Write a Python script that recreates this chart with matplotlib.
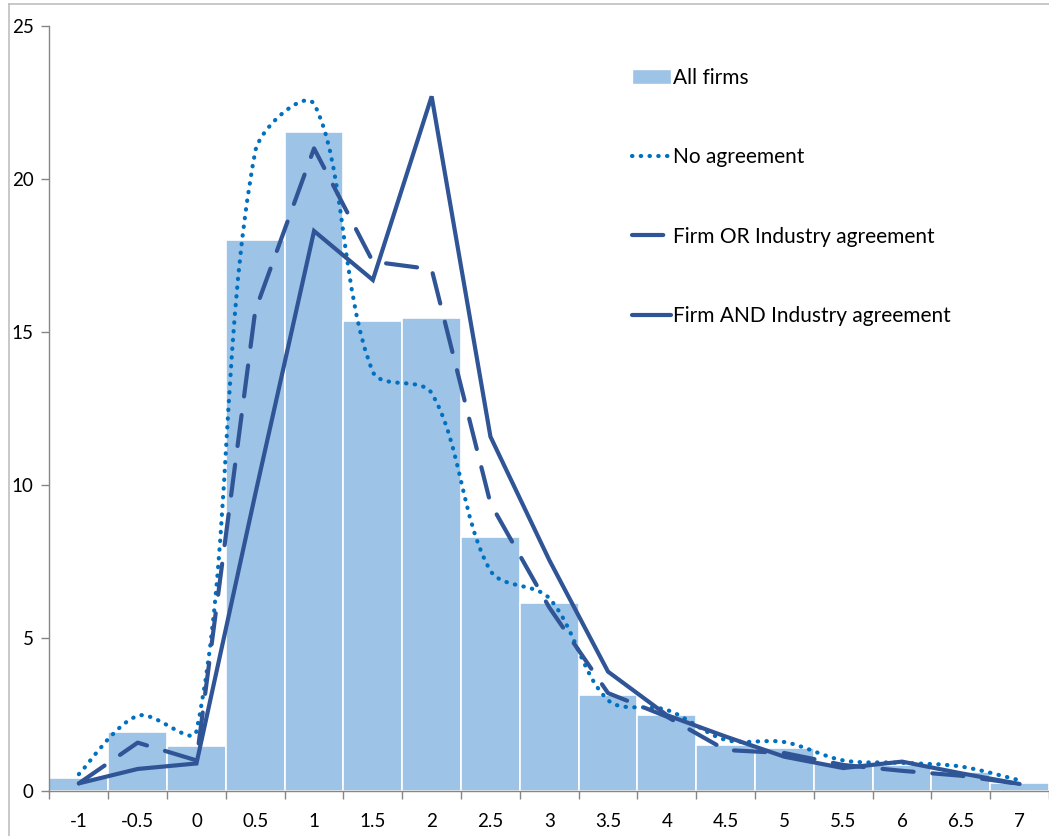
import matplotlib
matplotlib.use("Agg")
import matplotlib.pyplot as plt
import numpy as np
from matplotlib.lines import Line2D
from matplotlib.patches import Patch, PathPatch
from matplotlib.path import Path

# categories (x) and percentage values
x = [-1, -0.5, 0, 0.5, 1, 1.5, 2, 2.5, 3, 3.5, 4, 4.5, 5, 5.5, 6, 6.5, 7]
x_labels = ["-1", "-0.5", "0", "0.5", "1", "1.5", "2", "2.5", "3", "3.5",
            "4", "4.5", "5", "5.5", "6", "6.5", "7"]
all_firms = [0.42, 1.93, 1.47, 18.0, 21.55, 15.35, 15.45, 8.3, 6.15, 3.14,
             2.48, 1.5, 1.41, 0.88, 0.85, 0.63, 0.25]
no_agreement = [0.55, 2.46, 1.96, 20.9, 22.45, 13.7, 13.0, 7.2, 6.3, 2.97,
                2.65, 1.67, 1.6, 1.0, 0.92, 0.8, 0.35]
firm_or = [0.25, 1.58, 1.0, 15.7, 21.0, 17.3, 17.05, 9.4, 6.0, 3.2,
           2.43, 1.34, 1.24, 0.85, 0.66, 0.5, 0.23]
firm_and = [0.25, 0.72, 0.9, 9.7, 18.3, 16.7, 22.7, 11.58, 7.55, 3.9,
            2.48, 1.78, 1.12, 0.75, 0.96, 0.58, 0.23]

BAR_COLOR = "#9DC3E6"
DARK = "#2F5597"
DOT = "#0070C0"
AXIS = "#868686"

plt.rcParams["font.family"] = ["Lato", "DejaVu Sans"]


def smooth_path(xs, ys, sx=118.1, sy=30.6):
    """Excel-like smoothed line: cubic beziers, tangents scaled by chord length."""
    pts = np.column_stack([xs, ys]).astype(float)
    scr = pts * [sx, sy]
    n = len(pts)
    d = np.hypot(*np.diff(scr, axis=0).T)

    def tangent(i):
        if i == 0:
            return pts[1] - pts[0], d[0], d[0]
        if i == n - 1:
            return pts[-1] - pts[-2], d[-1], d[-1]
        return pts[i + 1] - pts[i - 1], d[i - 1], d[i]

    verts = [pts[0]]
    codes = [Path.MOVETO]
    for i in range(n - 1):
        t1, a1, b1 = tangent(i)
        t2, a2, b2 = tangent(i + 1)
        c1 = pts[i] + t1 * (b1 / (a1 + b1)) / 3.0
        c2 = pts[i + 1] - t2 * (a2 / (a2 + b2)) / 3.0
        verts += [c1, c2, pts[i + 1]]
        codes += [Path.CURVE4] * 3
    return Path(verts, codes)


fig = plt.figure(figsize=(10.49, 8.36), dpi=100)
ax = fig.add_axes([49 / 1049, 45 / 836, 1000 / 1049, 765 / 836])

ax.bar(x, all_firms, width=0.5, color=BAR_COLOR, edgecolor="white",
       linewidth=1.2, zorder=1)

dotted = PathPatch(smooth_path(x, no_agreement), facecolor="none",
                   edgecolor=DOT, linewidth=3.0, linestyle=(0, (0.1, 2.0)),
                   capstyle="round", zorder=3)
ax.add_patch(dotted)
ax.plot(x, firm_or, color=DARK, linewidth=3.0, linestyle=(0, (7.5, 4.5)),
        dash_capstyle="round", solid_joinstyle="round", zorder=4)
ax.plot(x, firm_and, color=DARK, linewidth=3.0, solid_capstyle="round",
        solid_joinstyle="miter", zorder=5)

ax.set_xlim(-1.254, 7.213)
ax.set_ylim(0, 25)
ax.set_xticks(x)
ax.set_xticklabels(x_labels)
ax.set_xticks(np.arange(-1.25, 7.3, 0.5), minor=True)
ax.tick_params(axis="x", which="major", length=0, pad=16, labelsize=13.5)
ax.tick_params(axis="x", which="minor", length=6, color=AXIS, width=1)
ax.set_yticks([0, 5, 10, 15, 20, 25])
ax.tick_params(axis="y", length=6, color=AXIS, width=1, pad=5, labelsize=13.5)

for side in ("top", "right"):
    ax.spines[side].set_visible(False)
for side in ("left", "bottom"):
    ax.spines[side].set_color(AXIS)
    ax.spines[side].set_linewidth(1)

# chart area border (Excel frame, partly cropped)
fig.add_artist(Line2D([8.5 / 1049, 8.5 / 1049], [0, 1 - 4.3 / 836],
                      color="#BFBFBF", linewidth=1.2))
fig.add_artist(Line2D([8.5 / 1049, 1], [1 - 4.3 / 836, 1 - 4.3 / 836],
                      color="#BFBFBF", linewidth=1.2))

handles = [
    Patch(facecolor=BAR_COLOR, edgecolor="white"),
    Line2D([], [], color=DOT, linewidth=3.0, linestyle=(0, (0.1, 2.0)),
           dash_capstyle="round"),
    Line2D([], [], color=DARK, linewidth=3.0, linestyle=(0, (7.5, 4.5)),
           dash_capstyle="round"),
    Line2D([], [], color=DARK, linewidth=3.0, solid_capstyle="round"),
]
labels = ["All firms", "No agreement", "Firm OR Industry agreement",
          "Firm AND Industry agreement"]
ax.legend(handles, labels, loc="upper left",
          bbox_to_anchor=(632 / 1049, 1 - 68 / 836),
          bbox_transform=fig.transFigure, frameon=False, fontsize=15,
          borderpad=0, borderaxespad=0, handlelength=1.85,
          handletextpad=0.1, labelspacing=2.85)

fig.savefig("out.png", dpi=100)
